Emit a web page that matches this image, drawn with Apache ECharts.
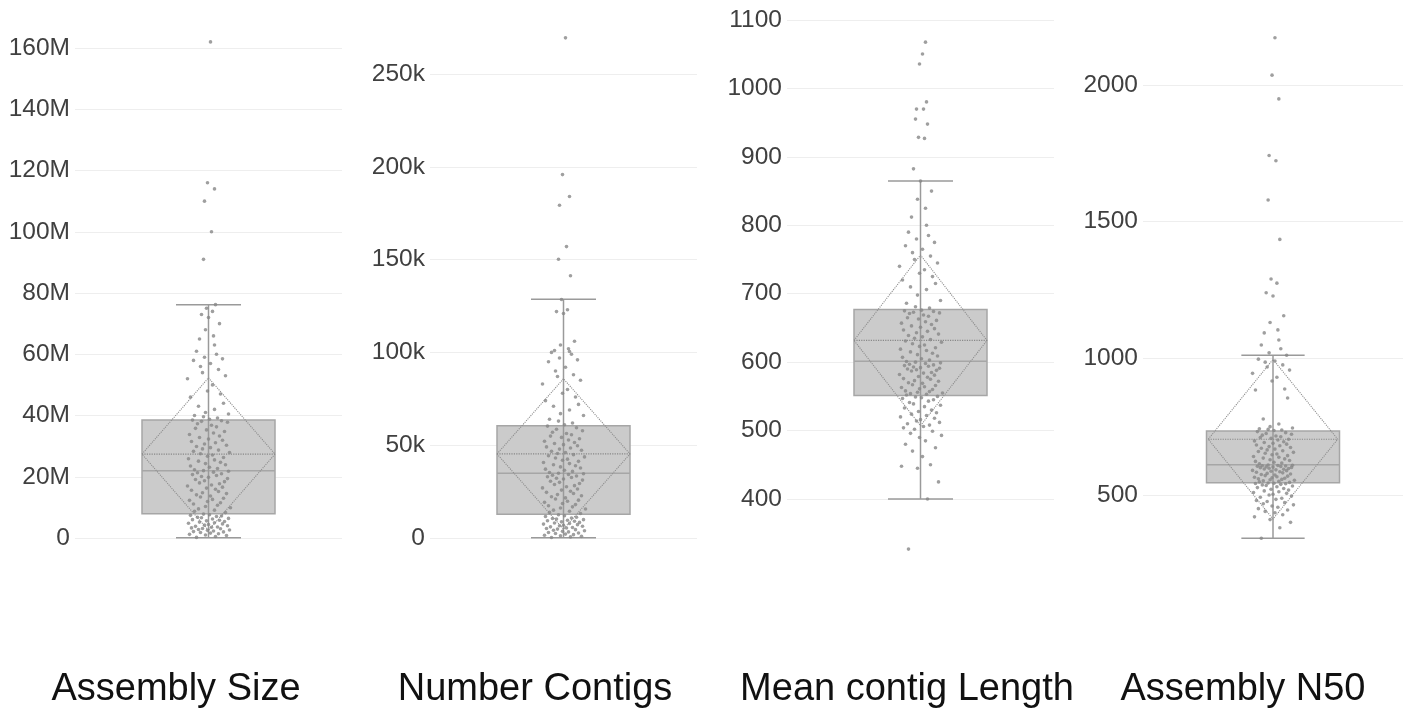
<!DOCTYPE html>
<html>
<head>
<meta charset="utf-8">
<title>Assembly statistics</title>
<script src="https://cdn.jsdelivr.net/npm/echarts@6/dist/echarts.min.js"></script>
<style>
  html, body { margin: 0; padding: 0; background: #ffffff; }
  #chart { width: 1403px; height: 713px; }
</style>
</head>
<body>
<div id="chart"></div>
<script>
// Panel titles
const categories = ['Assembly Size', 'Number Contigs', 'Mean contig Length', 'Assembly N50'];

// Assembly size per genome (millions of bases)
const sizeValues = [
  0.2,0.5,0.8,1.0,1.2,1.4,1.6,1.8,2.0,2.1,2.3,2.5,2.6,2.8,3.0,3.1,3.3,3.5,3.6,3.8,
  4.0,4.2,4.4,4.6,4.8,5.0,5.2,5.4,5.6,5.8,6.0,6.2,6.4,6.6,6.8,7.0,7.2,7.4,7.6,7.8,
  8.3,8.7,9.1,9.5,9.9,10.3,10.7,11.1,11.5,11.9,12.3,12.6,13.0,13.4,13.7,14.1,14.5,14.8,15.2,15.6,
  15.9,16.3,16.6,17.0,17.3,17.7,18.0,18.4,18.7,19.1,19.4,19.8,20.1,20.4,20.7,21.0,21.3,21.5,21.8,22.0,
  22.3,22.7,23.1,23.5,23.9,24.3,24.7,25.1,25.5,25.9,26.3,26.7,27.1,27.5,27.9,28.3,28.7,29.1,29.5,29.9,
  30.3,30.7,31.1,31.5,31.9,32.3,32.8,33.3,33.8,34.3,34.8,35.3,35.8,36.3,36.8,37.3,37.8,38.1,38.3,38.5,
  38.8,39.2,39.6,40.0,40.5,41.0,42,43,44,46,47,48,50,52,53,54,55,56,57,58,
  58.5,59,60,61,63,65,66,68,70,72,73,74,75,76.2,91,100,110,114,116,162
];
// Number of contigs per assembly (thousands)
const contigValues = [
  0.3,0.6,0.9,1.2,1.5,1.8,2.1,2.4,2.7,3.0,3.3,3.6,3.9,4.2,4.5,4.8,5.1,5.4,5.7,6.0,
  6.3,6.6,6.9,7.2,7.5,7.8,8.1,8.4,8.7,9.0,9.3,9.6,9.9,10.2,10.5,10.8,11.2,11.6,12.0,12.5,
  13.2,13.8,14.4,15.0,15.6,16.2,16.8,17.4,18.0,18.6,19.2,19.8,20.4,21.0,21.6,22.2,22.8,23.4,24.0,24.6,
  25.2,25.8,26.4,27.0,27.6,28.2,28.8,29.4,30.0,30.6,31.2,31.8,32.2,32.6,33.0,33.4,33.8,34.2,34.6,34.9,
  35.3,35.9,36.5,37.1,37.7,38.3,38.9,39.5,40.1,40.7,41.3,41.9,42.5,43.1,43.7,44.3,44.9,45.5,46.1,46.7,
  47.3,47.9,48.5,49.1,49.7,50.3,50.9,51.5,52.1,52.8,53.5,54.2,54.9,55.6,56.3,57.0,57.8,58.6,59.4,60.3,
  61,62,63,64,66,67,69,71,72,74,76,78,80,83,85,87,88,90,92,95,
  96,97,99,100,100.5,101,102,104,106,121,122,123,128.5,141.3,150.2,157,179.3,184,195.8,269.5
];
// Mean contig length per assembly (bp)
const meanLenValues = [
  326.8,
  400,425,445,448,450,462,470,475,480,485,490,493,496,499,502,504,506,508,510,512,
  514,516,518,520,522,524,526,528,530,533,535,537,539,541,543,545,547,548,549,550,
  552,553,554,555,556,557,558,560,561,563,564,566,567,569,570,572,573,575,576,578,
  579,581,582,584,585,587,588,589,590,591,592,593,594,595,596,597,598,599,600,601,
  603,605,607,609,611,613,615,617,619,621,623,625,627,629,631,633,635,637,639,641,
  643,645,647,649,651,653,655,657,659,661,663,665,667,669,671,672,673,674,675,676,
  679,681,686,690,698,706,710,715,720,725,730,735,740,745,750,755,760,765,770,775,
  780,785,790,800,812,825,838,850,864.7,882.5,927,928.5,947.9,955.2,969.8,969.8,980.3,1035.7,1050.3,1067.6
];
// Assembly N50 (bp)
const n50Values = [
  342,380,400,410,420,428,435,440,445,450,455,460,464,468,472,476,480,484,488,492,
  496,500,503,506,509,512,515,518,521,524,527,530,533,535,537,539,541,542,543,544,
  546,548,550,552,554,556,557,559,561,563,565,567,569,571,573,575,577,579,581,583,
  585,587,589,590,592,594,595,597,598,600,601,602,603,604,605,606,607,608,609,610,
  614,617,620,623,626,629,632,635,638,641,644,647,650,653,656,659,662,665,668,671,
  674,677,680,683,686,689,692,695,698,701,704,707,710,713,716,719,722,725,728,732,
  736,738,740,742,745,750,760,778,855,884,888,917,931,945,957,968,976,986,990,997,
  1011,1020,1035,1049,1067,1093,1104,1131,1156,1228,1240,1275,1290,1435,1579,1723,1742,1949,2036,2173
];

// Horizontal spread of the points around each box centre (px)
const jitter = [
  -12,7,18,-3,-19,10,2,-8,15,-15,5,-1,21,-10,12,-6,-17,3,9,-13,
  19,-4,0,14,-20,6,-9,16,-2,11,-16,4,20,-7,-11,8,13,-18,1,-5,
  17,-14,6,-10,22,-3,9,-15,12,-1,-19,4,15,-8,2,-12,18,-6,10,-17,
  7,-2,14,-21,3,11,-9,16,-4,-13,19,0,-7,8,-16,13,-11,5,20,-5,
  -14,9,1,-18,17,-3,12,-10,6,-20,15,-1,4,-8,21,-15,10,-6,2,-12,
  18,-4,7,-17,14,0,-9,11,-19,5,16,-2,-13,8,3,-11,19,-7,13,-16,
  1,9,-5,-14,20,-3,6,-10,15,-18,12,-1,4,-21,17,-6,10,-8,2,-15,
  14,-4,8,-12,6,-9,5,-3,11,0,-7,4,-2,7,-5,3,-4,6,-1,2,5
];

// Box statistics: [lower whisker, Q1, median, Q3, upper whisker]
const sizeBox = [0.1, 7.9, 22.0, 38.5, 76.2];
const contigBox = [0.2, 12.8, 34.9, 60.5, 128.6];
const meanLenBox = [400, 551.4, 601.5, 677, 864.7];
const n50Box = [342, 545, 611, 734, 1011];

// Mean and standard deviation: [mean, sd]
const sizeMeanSd = [27.4, 24.9];
const contigMeanSd = [45.3, 40.5];
const meanLenMeanSd = [631.8, 124.7];
const n50MeanSd = [704, 292];

// Tick values shown on each y axis
const sizeTicks = [0, 20, 40, 60, 80, 100, 120, 140, 160];
const contigTicks = [0, 50, 100, 150, 200, 250];
const meanLenTicks = [400, 500, 600, 700, 800, 900, 1000, 1100];
const n50Ticks = [500, 1000, 1500, 2000];

const panels = [
  { values: sizeValues, box: sizeBox, ms: sizeMeanSd, ticks: sizeTicks, suffix: 'M',
    range: [-7.18, 170.78], left: 75, titleX: 176 },
  { values: contigValues, box: contigBox, ms: contigMeanSd, ticks: contigTicks, suffix: 'k',
    range: [-11.85, 281.8], left: 430, titleX: 535 },
  { values: meanLenValues, box: meanLenBox, ms: meanLenMeanSd, ticks: meanLenTicks, suffix: '',
    range: [310.9, 1107.3], left: 787, titleX: 907 },
  { values: n50Values, box: n50Box, ms: n50MeanSd, ticks: n50Ticks, suffix: '',
    range: [262.2, 2256], left: 1143, titleX: 1243 }
];

const HALF = 133.5;     // half width of each plot, in x-axis units (px)
const BOX_HALF = 66.5;  // half width of the box
const CAP_HALF = 32.5;  // half width of whisker caps
const LINE_GREY = '#9a9a9a';
const FONT = '"Liberation Sans", Arial, Helvetica, sans-serif';

const grid = [], xAxis = [], yAxis = [], series = [], graphic = [];

panels.forEach((p, i) => {
  grid.push({ left: p.left, width: 267, top: 15, height: 545 });
  xAxis.push({ type: 'category', gridIndex: i, data: [categories[i]], show: false });
  xAxis.push({ type: 'value', gridIndex: i, min: -HALF, max: HALF, show: false });
  yAxis.push({
    type: 'value', gridIndex: i, min: p.range[0], max: p.range[1],
    axisLine: { show: false },
    axisTick: { show: false, customValues: p.ticks },
    axisLabel: {
      customValues: p.ticks, margin: 5, fontSize: 24.5, color: '#404040', fontFamily: FONT,
      formatter: v => (v === 0 ? '0' : v + p.suffix)
    },
    splitLine: { show: true, lineStyle: { color: '#eeeeee', width: 1 } }
  });

  const cat = 2 * i, val = 2 * i + 1;
  const [lo, q1, med, q3, hi] = p.box;
  const [mean, sd] = p.ms;

  // Box with median (whiskers drawn separately so the caps can be narrower)
  series.push({
    type: 'boxplot', xAxisIndex: cat, yAxisIndex: i, z: 1,
    boxWidth: [2 * BOX_HALF, 2 * BOX_HALF],
    itemStyle: { color: '#cbcbcb', borderColor: '#a6a6a6', borderWidth: 1.5 },
    data: [[q1, q1, med, q3, q3]]
  });

  const line = (data, type, width, color) => ({
    type: 'line', xAxisIndex: val, yAxisIndex: i, z: 3, symbol: 'none',
    data, lineStyle: { type, width, color }, silent: true
  });
  // Whisker stem and caps
  series.push(line([[0, lo], [0, hi]], 'solid', 1.5, LINE_GREY));
  series.push(line([[-CAP_HALF, hi], [CAP_HALF, hi]], 'solid', 1.5, LINE_GREY));
  series.push(line([[-CAP_HALF, lo], [CAP_HALF, lo]], 'solid', 1.5, LINE_GREY));
  // Mean line and mean ± sd diamond
  series.push(line([[-BOX_HALF, mean], [BOX_HALF, mean]], 'dotted', 1.2, '#888888'));
  series.push(line([[-BOX_HALF, mean], [0, mean + sd], [BOX_HALF, mean], [0, mean - sd], [-BOX_HALF, mean]],
    'dotted', 1.1, '#8c8c8c'));

  // Individual observations
  series.push({
    type: 'scatter', xAxisIndex: val, yAxisIndex: i, z: 4,
    symbolSize: 3.6, itemStyle: { color: '#878787' },
    data: p.values.map((v, k) => [jitter[k % jitter.length], v])
  });

  graphic.push({
    type: 'text', x: p.titleX, y: 690,
    style: { text: categories[i], font: '38px ' + FONT, fill: '#111111',
             textAlign: 'center', textVerticalAlign: 'middle' }
  });
});

const chart = echarts.init(document.getElementById('chart'), null, { renderer: 'canvas' });
chart.setOption({
  animation: false,
  backgroundColor: '#ffffff',
  grid, xAxis, yAxis, series, graphic
});
</script>
</body>
</html>
